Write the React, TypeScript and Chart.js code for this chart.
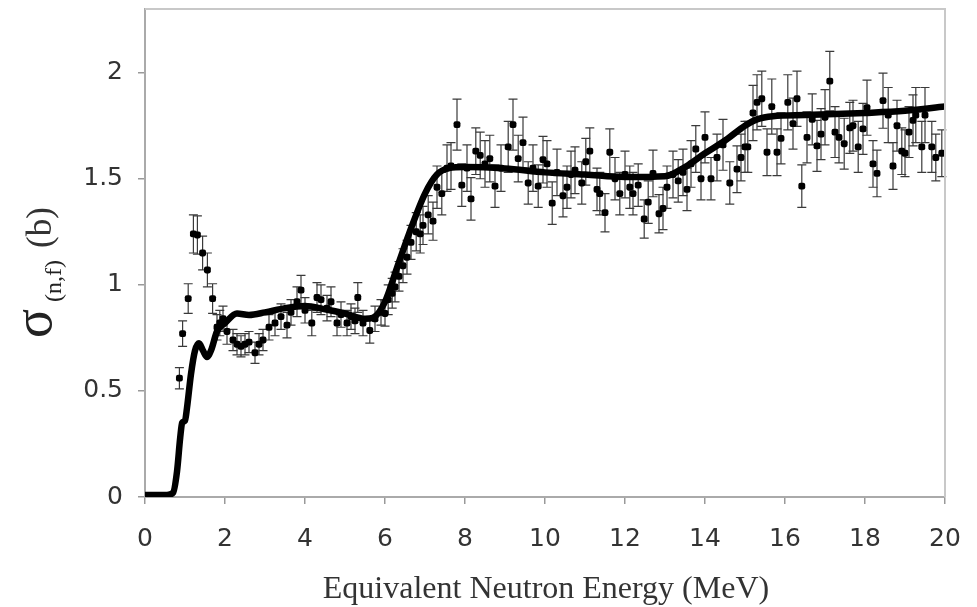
import React, { useEffect, useRef } from "react";
import { Chart, registerables } from "chart.js";

Chart.register(...registerables);

// Theoretical cross-section curve (MeV, barns)
const theoryEnergy = [
  0, 0.3, 0.55, 0.7, 0.8, 0.88, 0.93, 1.0, 1.05, 1.15, 1.25, 1.35, 1.45, 1.55, 1.65, 1.8,
  2.0, 2.3, 2.6, 3.0, 3.5, 4.0, 4.5, 5.0, 5.5, 5.7, 6.0, 6.3, 6.6, 7.0, 7.3, 7.6, 8.0,
  9.0, 10.0, 11.0, 12.0, 13.0, 13.5, 14.0, 14.5, 15.0, 15.3, 15.7, 16.5, 18.0, 19.0, 20.0,
];
const theorySigma = [
  0.01, 0.01, 0.01, 0.02, 0.12, 0.28, 0.35, 0.36, 0.42, 0.58, 0.69, 0.725, 0.69, 0.66, 0.69, 0.78,
  0.82, 0.865, 0.858, 0.87, 0.89, 0.9, 0.885, 0.865, 0.84, 0.845, 0.92, 1.08, 1.24, 1.43, 1.52, 1.55, 1.555,
  1.548, 1.53, 1.52, 1.508, 1.512, 1.555, 1.62, 1.68, 1.75, 1.78, 1.795, 1.8, 1.81, 1.82, 1.84,
];

// Measured points with error bars
const dataEnergy = [
  0.86, 0.94, 1.08, 1.21, 1.31, 1.44, 1.56, 1.69, 1.8, 1.87, 1.95, 2.05, 2.2, 2.3, 2.4, 2.5,
  2.6, 2.75, 2.85, 2.95, 3.1, 3.25, 3.4, 3.55, 3.65, 3.8, 3.9, 4.0, 4.17, 4.3, 4.4, 4.55,
  4.65, 4.8, 4.9, 5.05, 5.15, 5.25, 5.32, 5.45, 5.62, 5.75, 5.9, 6.0, 6.08, 6.18, 6.25, 6.35,
  6.45, 6.55, 6.65, 6.78, 6.88, 6.95, 7.08, 7.2, 7.3, 7.42, 7.55, 7.65, 7.8, 7.92, 8.05, 8.15,
  8.27, 8.38, 8.5, 8.62, 8.75, 8.9, 9.08, 9.2, 9.33, 9.45, 9.58, 9.7, 9.83, 9.95, 10.05, 10.18,
  10.3, 10.45, 10.55, 10.65, 10.75, 10.92, 11.02, 11.12, 11.3, 11.37, 11.5, 11.62, 11.75, 11.87, 12.0, 12.12,
  12.2, 12.33, 12.48, 12.58, 12.7, 12.85, 12.95, 13.05, 13.2, 13.33, 13.45, 13.55, 13.65, 13.77, 13.9, 14.0,
  14.15, 14.3, 14.45, 14.62, 14.8, 14.9, 15.0, 15.07, 15.2, 15.3, 15.42, 15.55, 15.67, 15.8, 15.9, 16.07,
  16.2, 16.3, 16.42, 16.55, 16.68, 16.8, 16.9, 17.0, 17.12, 17.25, 17.35, 17.48, 17.62, 17.7, 17.83, 17.95,
  18.05, 18.2, 18.3, 18.45, 18.58, 18.7, 18.8, 18.92, 19.0, 19.1, 19.2, 19.27, 19.42, 19.5, 19.67, 19.77,
  19.92,
];
const dataSigma = [
  0.56, 0.77, 0.935, 1.24, 1.235, 1.15, 1.07, 0.935, 0.8, 0.82, 0.84, 0.78, 0.74, 0.72, 0.71, 0.72,
  0.73, 0.68, 0.72, 0.74, 0.8, 0.82, 0.85, 0.81, 0.87, 0.92, 0.975, 0.88, 0.82, 0.94, 0.93, 0.89,
  0.92, 0.82, 0.86, 0.82, 0.85, 0.83, 0.94, 0.82, 0.785, 0.84, 0.87, 0.865, 0.93, 0.96, 0.99, 1.04,
  1.09, 1.13, 1.2, 1.25, 1.24, 1.28, 1.33, 1.3, 1.46, 1.43, 1.55, 1.56, 1.755, 1.47, 1.55, 1.405,
  1.63, 1.61, 1.57, 1.595, 1.465, 1.55, 1.65, 1.755, 1.595, 1.67, 1.48, 1.55, 1.465, 1.59, 1.57, 1.385,
  1.53, 1.42, 1.46, 1.52, 1.54, 1.48, 1.58, 1.63, 1.45, 1.43, 1.34, 1.625, 1.5, 1.43, 1.52, 1.46,
  1.43, 1.47, 1.31, 1.39, 1.525, 1.335, 1.36, 1.46, 1.52, 1.49, 1.53, 1.45, 1.57, 1.64, 1.5, 1.695,
  1.5, 1.6, 1.66, 1.48, 1.545, 1.6, 1.65, 1.65, 1.81, 1.86, 1.877, 1.625, 1.84, 1.625, 1.69, 1.86,
  1.76, 1.877, 1.465, 1.695, 1.78, 1.655, 1.71, 1.79, 1.96, 1.72, 1.695, 1.665, 1.74, 1.75, 1.65, 1.735,
  1.835, 1.57, 1.525, 1.868, 1.8, 1.56, 1.75, 1.63, 1.62, 1.72, 1.775, 1.8, 1.65, 1.8, 1.65, 1.6,
  1.62,
];
const dataError = [
  0.05, 0.06, 0.07, 0.09, 0.09, 0.08, 0.08, 0.07, 0.06, 0.06, 0.06, 0.06, 0.05, 0.05, 0.05, 0.05,
  0.05, 0.05, 0.05, 0.05, 0.06, 0.06, 0.06, 0.06, 0.06, 0.07, 0.07, 0.06, 0.06, 0.07, 0.07, 0.06,
  0.07, 0.06, 0.06, 0.06, 0.06, 0.06, 0.07, 0.06, 0.06, 0.06, 0.06, 0.06, 0.07, 0.07, 0.07, 0.07,
  0.08, 0.08, 0.08, 0.09, 0.09, 0.09, 0.09, 0.09, 0.1, 0.1, 0.11, 0.11, 0.12, 0.1, 0.11, 0.1,
  0.11, 0.11, 0.11, 0.11, 0.1, 0.11, 0.12, 0.12, 0.11, 0.12, 0.1, 0.11, 0.1, 0.11, 0.11, 0.1,
  0.11, 0.1, 0.1, 0.11, 0.11, 0.1, 0.11, 0.11, 0.1, 0.1, 0.09, 0.11, 0.1, 0.1, 0.11, 0.1,
  0.1, 0.1, 0.09, 0.1, 0.11, 0.09, 0.1, 0.1, 0.11, 0.1, 0.11, 0.1, 0.11, 0.11, 0.1, 0.12,
  0.1, 0.11, 0.12, 0.1, 0.11, 0.11, 0.12, 0.12, 0.13, 0.13, 0.13, 0.11, 0.13, 0.11, 0.12, 0.13,
  0.12, 0.13, 0.1, 0.12, 0.12, 0.12, 0.12, 0.13, 0.14, 0.12, 0.12, 0.12, 0.12, 0.12, 0.12, 0.12,
  0.13, 0.11, 0.11, 0.13, 0.13, 0.11, 0.12, 0.11, 0.11, 0.12, 0.12, 0.13, 0.12, 0.13, 0.12, 0.11,
  0.11,
];

const xTicks = [0, 2, 4, 6, 8, 10, 12, 14, 16, 18, 20];
const yTicks = [0, 0.5, 1, 1.5, 2];
const xTitle = "Equivalent Neutron Energy (MeV)";
const yTitleMain = "σ";
const yTitleSub = "(n,f)";
const yTitleUnit = "(b)";

const decorPlugin = {
  id: "decor",
  beforeDatasetsDraw(chart: any) {
    const ctx = chart.ctx;
    const xs = chart.scales.x;
    const ys = chart.scales.y;
    ctx.save();
    ctx.strokeStyle = "#3a3a3a";
    ctx.lineWidth = 1.2;
    for (let i = 0; i < dataEnergy.length; i++) {
      const px = xs.getPixelForValue(dataEnergy[i]);
      const top = ys.getPixelForValue(dataSigma[i] + dataError[i]);
      const bot = ys.getPixelForValue(dataSigma[i] - dataError[i]);
      ctx.beginPath();
      ctx.moveTo(px, top);
      ctx.lineTo(px, bot);
      ctx.moveTo(px - 4.5, top);
      ctx.lineTo(px + 4.5, top);
      ctx.moveTo(px - 4.5, bot);
      ctx.lineTo(px + 4.5, bot);
      ctx.stroke();
    }
    ctx.restore();
  },
  afterDraw(chart: any) {
    const ctx = chart.ctx;
    const a = chart.chartArea;
    ctx.save();
    // top and right frame
    ctx.strokeStyle = "#c8c8c8";
    ctx.lineWidth = 2;
    ctx.beginPath();
    ctx.moveTo(a.left, a.top);
    ctx.lineTo(a.right, a.top);
    ctx.lineTo(a.right, a.bottom);
    ctx.stroke();

    // x title
    ctx.fillStyle = "#333";
    ctx.font = "32px 'Liberation Serif', serif";
    ctx.textAlign = "center";
    ctx.textBaseline = "alphabetic";
    ctx.fillText(xTitle, 546, 598);

    // y title (rotated)
    ctx.translate(51, 338);
    ctx.rotate(-Math.PI / 2);
    ctx.textAlign = "left";
    ctx.fillStyle = "#222";
    ctx.font = "54px 'Liberation Serif', serif";
    ctx.fillText(yTitleMain, 0, 0);
    ctx.font = "24px 'Liberation Serif', serif";
    ctx.fillText(yTitleSub, 36, 10);
    ctx.fillStyle = "#333";
    ctx.font = "35px 'Liberation Serif', serif";
    ctx.fillText(yTitleUnit, 90, 0);
    ctx.restore();
  },
};

export default function App() {
  const ref = useRef<HTMLCanvasElement>(null);
  useEffect(() => {
    if (!ref.current) return;
    const chart = new Chart(ref.current, {
      type: "scatter",
      data: {
        datasets: [
          {
            type: "line",
            label: "theory",
            data: theoryEnergy.map((e, i) => ({ x: e, y: theorySigma[i] })),
            borderColor: "#000",
            borderWidth: 6.5,
            pointRadius: 0,
            cubicInterpolationMode: "monotone",
            fill: false,
            order: 0,
          } as any,
          {
            label: "data",
            data: dataEnergy.map((e, i) => ({ x: e, y: dataSigma[i] })),
            backgroundColor: "#000",
            borderColor: "#000",
            pointStyle: "rectRounded",
            pointRadius: 4,
            borderWidth: 0,
            order: 1,
          },
        ],
      },
      options: {
        animation: false,
        responsive: false,
        layout: { padding: { top: 9, right: 32, left: 0, bottom: 0 } },
        plugins: { legend: { display: false }, tooltip: { enabled: false } },
        scales: {
          x: {
            type: "linear",
            min: 0,
            max: 20,
            afterBuildTicks: (s: any) => {
              s.ticks = xTicks.map((v) => ({ value: v }));
            },
            afterFit: (s: any) => {
              s.height = 110;
              s.paddingLeft = 0;
              s.paddingRight = 0;
            },
            grid: { drawOnChartArea: false, drawTicks: true, tickLength: 7, color: "#999", lineWidth: 1.5 },
            border: { color: "#aaa", width: 2 },
            ticks: {
              font: { family: "'DejaVu Sans'", size: 25 },
              color: "#333",
              padding: 20,
              maxRotation: 0,
              autoSkip: false,
              callback: (v: any) => String(v),
            },
          },
          y: {
            type: "linear",
            min: 0,
            max: 2.3,
            afterBuildTicks: (s: any) => {
              s.ticks = yTicks.map((v) => ({ value: v }));
            },
            afterFit: (s: any) => {
              s.width = 145;
              s.paddingTop = 0;
              s.paddingBottom = 0;
            },
            grid: { drawOnChartArea: false, drawTicks: true, tickLength: 7, color: "#999", lineWidth: 1.5 },
            border: { color: "#aaa", width: 2 },
            ticks: {
              font: { family: "'DejaVu Sans'", size: 25 },
              color: "#333",
              padding: 15,
              autoSkip: false,
              callback: (v: any) => String(v),
            },
          },
        },
      },
      plugins: [decorPlugin],
    });
    return () => chart.destroy();
  }, []);
  return (
    <div style={{ position: "fixed", left: 0, top: 0, width: 977, height: 607, background: "#fff" }}>
      <canvas ref={ref} width={977} height={607} style={{ display: "block" }} />
    </div>
  );
}
